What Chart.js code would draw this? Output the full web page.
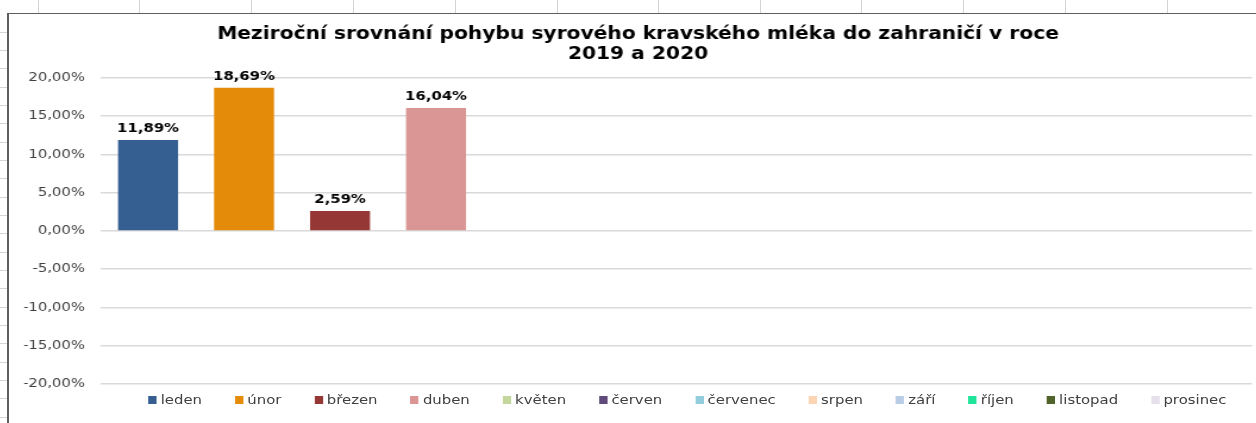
<!DOCTYPE html>
<html>
<head>
<meta charset="utf-8">
<script src="https://cdn.jsdelivr.net/npm/chart.js@4/dist/chart.umd.min.js"></script>
<style>
html,body{margin:0;padding:0;width:1256px;height:423px;overflow:hidden;background:#fff;font-family:"DejaVu Sans",sans-serif}
#frame{position:absolute;left:7px;top:13px;width:1290px;height:420px;border-left:2px solid #5f5f5f;border-top:1px solid #5f5f5f;background:#fff;overflow:hidden}
#wide{position:absolute;left:0;top:0;width:1057px;height:409px;transform:scaleX(1.19);transform-origin:0 0}
#c{position:absolute;left:0;top:0}
#legend{position:absolute;left:0;top:378px;width:1057px;display:flex;justify-content:center;padding-left:83px;box-sizing:border-box;gap:27.6px;font-size:12.5px;color:#404040;line-height:16px;white-space:nowrap}
#legend span.it{display:flex;align-items:center}
#legend i{display:inline-block;width:7px;height:8px;margin-right:3.5px}
.cl{position:absolute;top:0;height:13px;width:1px;background:#d4d4d4}
.rl{position:absolute;left:0;width:7px;height:1px;background:#d4d4d4}
</style>
</head>
<body>
<div id="sheet"></div>
<div id="frame">
  <div id="wide">
    <canvas id="c" width="1057" height="409"></canvas>
    <div id="legend"></div>
  </div>
</div>
<script>
// ---- data ----
const months = ['leden','únor','březen','duben','květen','červen','červenec','srpen','září','říjen','listopad','prosinec'];
const values = [11.89, 18.69, 2.59, 16.04, null, null, null, null, null, null, null, null];
const colors = ['#365F91','#E48C0A','#953735','#D99694','#C3D69B','#604A7B','#93CDDD','#FCD5B5','#B9CDE5','#1FE59A','#4F6228','#E6E0EC'];
const titleLines = ['Meziroční srovnání pohybu syrového kravského mléka do zahraničí v roce','2019 a 2020'];
const yMin = -20, yMax = 20, yStep = 5;

// ---- spreadsheet backdrop (decoration) ----
const sheet = document.getElementById('sheet');
[38,139,251,353,455,557,658,760,861,963,1065,1167].forEach(x=>{
  const d=document.createElement('div');d.className='cl';d.style.left=x+'px';sheet.appendChild(d);
});
for(let y=31.7;y<423;y+=18.33){
  const d=document.createElement('div');d.className='rl';d.style.top=Math.round(y)+'px';sheet.appendChild(d);
}

const fmt = v => v.toFixed(2).replace('.', ',') + '%';

const valueLabels = {
  id:'valueLabels',
  afterDatasetsDraw(chart){
    const ctx = chart.ctx;
    const meta = chart.getDatasetMeta(0);
    ctx.save();
    ctx.font = 'bold 12.5px "DejaVu Sans"';
    ctx.fillStyle = '#000';
    ctx.textAlign = 'center';
    ctx.textBaseline = 'bottom';
    meta.data.forEach((bar,i)=>{
      const v = chart.data.datasets[0].data[i];
      if (v == null) return;
      ctx.fillText(fmt(v), bar.x, bar.y - 5);
    });
    ctx.restore();
  }
};

const chart = new Chart(document.getElementById('c'), {
  type:'bar',
  data:{
    labels: months,
    datasets:[{
      label:'2020/2019',
      data: values,
      backgroundColor: colors,
      categoryPercentage: 0.625,
      barPercentage: 1
    }]
  },
  options:{
    responsive:false,
    animation:false,
    layout:{padding:{left:12.7,right:12.5,top:0,bottom:39}},
    plugins:{
      title:{display:true,text:titleLines,color:'#000',
        font:{family:'DejaVu Sans',size:17,weight:'bold',lineHeight:1.2},
        padding:{top:10,bottom:13}},
      legend:{display:false},
      tooltip:{enabled:false}
    },
    scales:{
      x:{display:false},
      y:{min:yMin,max:yMax,
        ticks:{stepSize:yStep,callback:v=>fmt(v),color:'#404040',padding:12.6,
          font:{family:'DejaVu Sans',size:12.5}},
        grid:{color:'#d9d9d9',lineWidth:1.5,drawTicks:false},
        border:{display:false},
        afterFit(s){s.width=63.8;}
      }
    }
  },
  plugins:[valueLabels]
});

// HTML legend from the chart's data
const lg = document.getElementById('legend');
chart.data.labels.forEach((m,i)=>{
  const s=document.createElement('span');s.className='it';
  const b=document.createElement('i');b.style.background=chart.data.datasets[0].backgroundColor[i];
  s.appendChild(b);s.appendChild(document.createTextNode(m));lg.appendChild(s);
});
</script>
</body>
</html>
